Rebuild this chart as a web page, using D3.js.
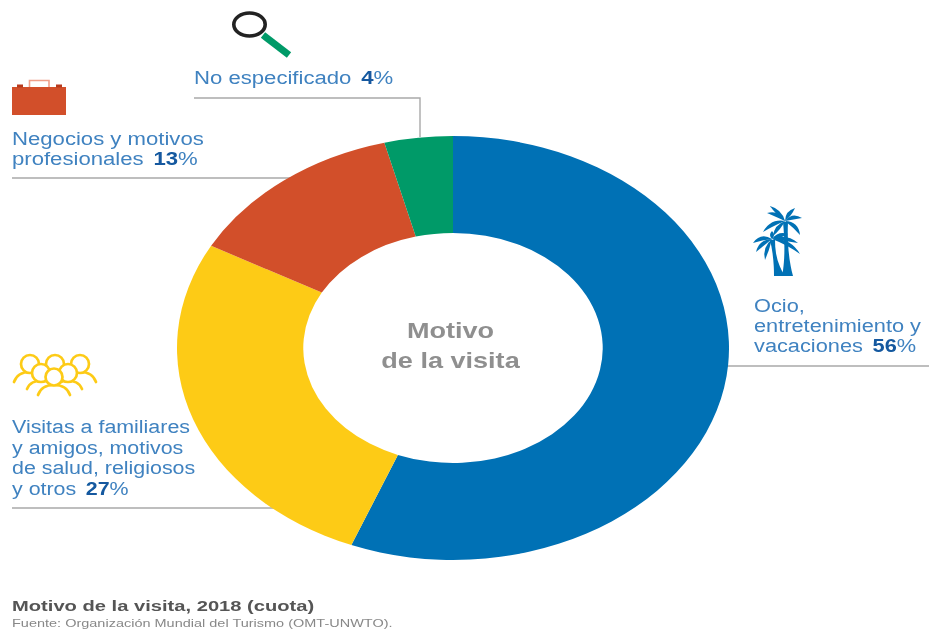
<!DOCTYPE html>
<html><head><meta charset="utf-8">
<style>html,body{margin:0;background:#fff}svg{display:block}text{font-family:"Liberation Sans",Arial,sans-serif}</style>
<script src="https://cdn.jsdelivr.net/npm/d3@7/dist/d3.min.js"></script></head><body>
<script>
const categories=["Ocio, entretenimiento y vacaciones","Visitas a familiares y amigos, motivos de salud, religiosos y otros","Negocios y motivos profesionales","No especificado"];
const shares=[56,27,13,4];
const colors=["#0071b5","#fdcb17","#d2502a","#009a68"];
const labelLines=[["Ocio,","entretenimiento y","vacaciones"],["Visitas a familiares","y amigos, motivos","de salud, religiosos","y otros"],["Negocios y motivos","profesionales"],["No especificado"]];
const labelPos=[[754,312],[12,433],[12,145],[194,84]];
const labelScale=[1.21,1.19,1.23,1.23];
const W=929,H=632,sx=1.23;
const svg=d3.select("body").append("svg").attr("width",W).attr("height",H);
const defs=svg.append("defs");
defs.append("filter").attr("id","soft").attr("filterUnits","userSpaceOnUse").attr("x",0).attr("y",0).attr("width",W).attr("height",H)
  .append("feGaussianBlur").attr("stdDeviation",0.65);
const root=svg.append("g");

// leader lines
const leaders=["M194,98H420V137","M12,178H290","M12,508H276","M726,366H929"];
root.selectAll("path.leader").data(leaders).join("path").attr("class","leader").attr("d",d=>d)
  .attr("fill","none").attr("stroke","#a9a9a9").attr("stroke-width",1.4);

// donut (the reference is stretched horizontally)
const pie=d3.pie().sort(null)(shares);
const arc=d3.arc().innerRadius(115).outerRadius(212);
root.append("g").attr("transform",`translate(453,348) scale(${276/212},1)`)
  .selectAll("path").data(pie).join("path").attr("d",arc).attr("fill",(d,i)=>colors[i]);

function stretched(x,y,size,weight,fill,str,anchor,scale){
  return root.append("text").attr("transform",`translate(${x},${y}) scale(${scale||sx},1)`)
    .attr("font-size",size).attr("font-weight",weight).attr("fill",fill).attr("text-anchor",anchor||"start").text(str);
}
// category labels
labelLines.forEach((lines,i)=>{
  lines.forEach((l,j)=>{
    const y=labelPos[i][1]+j*(i===1?20.7:20);
    const t=stretched(labelPos[i][0],y,18,"normal","#3f82c0",l,null,labelScale[i]);
    if(j===lines.length-1){
      t.append("tspan").attr("dx",8).attr("font-weight","bold").attr("fill","#12589f").text(shares[i]);
      t.append("tspan").text("%");
    }
  });
});
// centre
stretched(450.5,338,22,"bold","#8f8f8f","Motivo","middle",1.23);
stretched(450.5,368,22,"bold","#8f8f8f","de la visita","middle",1.23);
// footer
stretched(12,611,15.5,"bold","#555","Motivo de la visita, 2018 (cuota)",null,1.3);
stretched(12,627,11.5,"normal","#888","Fuente: Organización Mundial del Turismo (OMT-UNWTO).",null,1.26);

// icons
const mag=root.append("g");
mag.append("ellipse").attr("cx",249.5).attr("cy",24.5).attr("rx",15.7).attr("ry",11.5).attr("fill","none").attr("stroke","#222").attr("stroke-width",3.6);
mag.append("path").attr("d","M263,35L289,55").attr("stroke","#009a68").attr("stroke-width",7).attr("fill","none");
const brief=root.append("g");
brief.append("rect").attr("x",12).attr("y",87).attr("width",54).attr("height",28).attr("fill","#d2502a");
brief.append("path").attr("d","M29.5,87V80.5H49V87").attr("fill","none").attr("stroke","#f0a08a").attr("stroke-width",1.6);
brief.append("rect").attr("x",17).attr("y",84.5).attr("width",6).attr("height",3).attr("fill","#b83a1e");
brief.append("rect").attr("x",56).attr("y",84.5).attr("width",6).attr("height",3).attr("fill","#b83a1e");
// people: painted back to front, each one masking what is behind it
const people=root.append("g").attr("fill","#fff").attr("stroke","#fdcb17").attr("stroke-width",2.7).attr("stroke-linecap","round");
[[30,364,9,16,18],[80,364,9,16,18],[55,364,9,16,18],[41,373,9,14,16],[68,373,9,14,16],[54,377,8.5,16,18]].forEach(([x,y,r,w,h])=>{
  people.append("path").attr("d",`M${x-w},${y+h}C${x-w+3},${y+9} ${x-6},${y+8} ${x},${y+8}C${x+6},${y+8} ${x+w-3},${y+9} ${x+w},${y+h}`);
  people.append("circle").attr("cx",x).attr("cy",y).attr("r",r);
});
// palms
const palm=root.append("g").attr("fill","#0071b5");
palm.append("path").attr("d","M783,222L788,222C787,242 789,262 793,276L782,276C785,262 785,242 783,222Z");
palm.append("path").attr("d","M770,240L775,240C775,252 777,264 785,276L774,276C774,264 773,252 770,240Z");
const fronds=[[785,221,767,213,-4],[785,221,770,206,-2],[785,221,795,208,-2],[785,221,802,218,-4],[785,221,763,232,-5],[785,221,800,235,5],[785,221,773,236,2],
  [772,239,753,243,-5],[772,239,756,252,-4],[772,239,765,260,-3],[772,239,772,231,0],[772,239,788,234,-2],[772,239,798,243,-4],[772,239,800,254,-6]];
fronds.forEach(([x0,y0,x1,y1,b])=>{
  const mx=(x0+x1)/2,my=(y0+y1)/2,dx=x1-x0,dy=y1-y0,L=Math.hypot(dx,dy);
  const nx=-dy/L,ny=dx/L,s=ny>0?-1:1,m=Math.abs(b);
  const c1=[mx+s*nx*(m+4),my+s*ny*(m+4)],c2=[mx+s*nx*(m-4),my+s*ny*(m-4)];
  palm.append("path").attr("d",`M${x0},${y0}Q${c1[0]},${c1[1]} ${x1},${y1}Q${c2[0]},${c2[1]} ${x0},${y0}Z`);
});
root.attr("filter","url(#soft)");
</script></body></html>
